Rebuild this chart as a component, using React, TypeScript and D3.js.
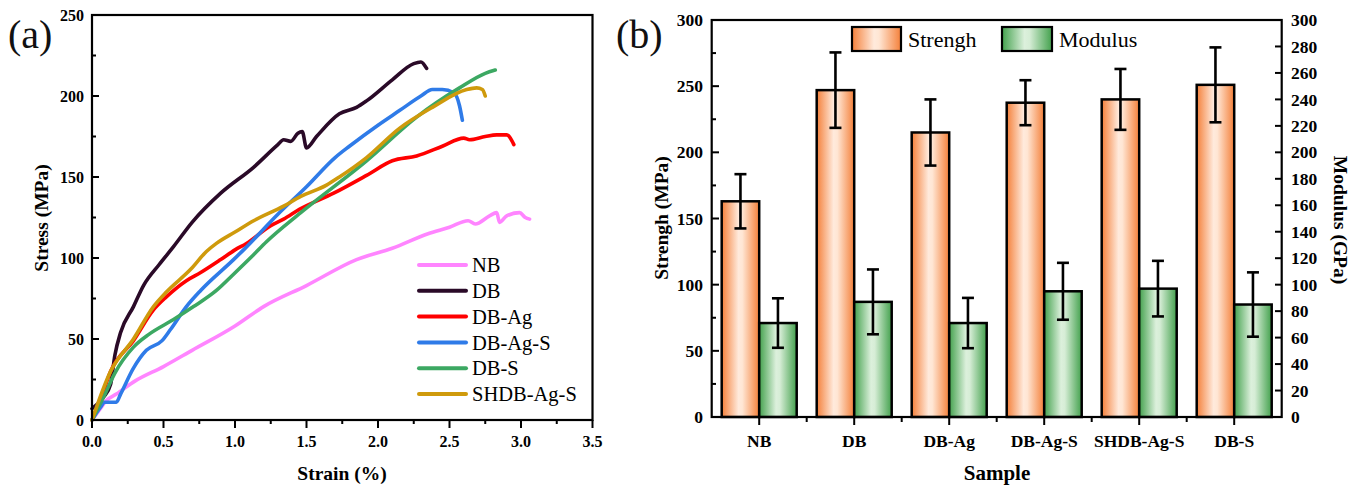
import React from "react";
import * as d3 from "d3";

// ---------- Panel (a) data: strain (%) vs stress (MPa) ----------
const NB: [number, number][] = [
  [0, 0], [0.05, 6], [0.1, 12], [0.17, 16], [0.3, 24], [0.5, 33], [0.7, 43], [1.0, 58],
  [1.2, 70], [1.5, 83], [1.85, 99], [2.1, 106], [2.35, 115], [2.5, 119], [2.63, 123],
  [2.68, 121], [2.78, 126], [2.83, 128], [2.85, 122], [2.9, 126], [2.99, 128], [3.03, 125], [3.06, 124],
];
const DB: [number, number][] = [
  [0, 7], [0.08, 14], [0.13, 22], [0.16, 40], [0.2, 54], [0.29, 70], [0.36, 83], [0.47, 96],
  [0.57, 107], [0.7, 122], [0.9, 140], [1.13, 156], [1.3, 170], [1.34, 173], [1.39, 172],
  [1.44, 177], [1.47, 178], [1.5, 168], [1.57, 175], [1.73, 189], [1.85, 193], [1.92, 197],
  [2.1, 210], [2.25, 220], [2.3, 221], [2.34, 217],
];
const DBAg: [number, number][] = [
  [0, 0], [0.05, 10], [0.13, 30], [0.29, 49], [0.43, 68], [0.52, 76], [0.66, 86], [0.76, 91],
  [0.9, 99], [1.0, 105], [1.08, 109], [1.25, 120], [1.34, 124], [1.45, 130], [1.69, 140],
  [1.92, 151], [2.1, 160], [2.27, 163], [2.45, 169], [2.6, 174], [2.64, 173], [2.75, 175],
  [2.83, 176], [2.9, 176], [2.95, 170],
];
const DBAgS: [number, number][] = [
  [0, 0], [0.06, 8], [0.09, 11], [0.17, 11], [0.2, 16], [0.29, 32], [0.38, 43], [0.49, 49],
  [0.55, 56], [0.66, 70], [0.76, 80], [0.99, 99], [1.06, 105], [1.3, 127], [1.5, 144],
  [1.7, 162], [1.8, 169], [2.0, 182], [2.15, 191], [2.3, 200], [2.38, 204], [2.45, 204],
  [2.53, 202], [2.57, 194], [2.59, 185],
];
const DBS: [number, number][] = [
  [0, 0], [0.08, 14], [0.16, 29], [0.29, 45], [0.4, 53], [0.57, 62], [0.71, 70], [0.87, 80],
  [0.99, 90], [1.13, 102], [1.22, 110], [1.46, 128], [1.92, 160], [2.27, 187], [2.57, 205],
  [2.75, 214], [2.82, 216],
];
const SHDBAgS: [number, number][] = [
  [0, 0], [0.13, 30], [0.29, 50], [0.43, 70], [0.52, 79], [0.69, 93], [0.8, 104], [0.87, 109],
  [1.0, 116], [1.13, 123], [1.34, 132], [1.46, 138], [1.64, 145], [1.73, 150], [1.92, 162],
  [2.15, 180], [2.38, 193], [2.62, 204], [2.69, 205], [2.73, 204], [2.75, 200],
];
const seriesNames = ["NB", "DB", "DB-Ag", "DB-Ag-S", "DB-S", "SHDB-Ag-S"];
const seriesData = [NB, DB, DBAg, DBAgS, DBS, SHDBAgS];
const seriesColors = ["#ff85ff", "#2a0a28", "#ff0000", "#2f7be8", "#3ca862", "#cf9a0c"];
const strainTicks = [0, 0.5, 1.0, 1.5, 2.0, 2.5, 3.0, 3.5];
const stressTicks = [0, 50, 100, 150, 200, 250];

// ---------- Panel (b) data ----------
const samples = ["NB", "DB", "DB-Ag", "DB-Ag-S", "SHDB-Ag-S", "DB-S"];
const strength = [163, 247, 215, 237.5, 240, 251];
const strengthErr = [20.5, 28.5, 25, 17, 23, 28.3];
const modulus = [71, 87, 71, 95, 97, 85];
const modulusErr = [18.7, 24.5, 19, 21.5, 21, 24.3];
const strengthTicks = [0, 50, 100, 150, 200, 250, 300];
const modulusTicks = d3.range(0, 301, 20);

const F = "Liberation Serif";

function T(props: any) {
  return <text fontFamily={F} {...props} />;
}

export default function App() {
  // Panel (a) scales
  const xA = d3.scaleLinear().domain([0, 3.5]).range([92, 592.5]);
  const yA = d3.scaleLinear().domain([0, 250]).range([420, 15]);
  const line = d3
    .line<[number, number]>()
    .x((d) => xA(d[0]))
    .y((d) => yA(d[1]))
    .curve(d3.curveMonotoneX);

  // Panel (b) scales
  const xB = d3.scaleBand<string>().domain(samples).range([711.7, 1281.7]).paddingInner(0).paddingOuter(0);
  const yB = d3.scaleLinear().domain([0, 300]).range([417, 20]);
  const yR = d3.scaleLinear().domain([0, 300]).range([417, 20]);
  const bw = 37.5;
  const cx = (s: string) => (xB(s) as number) + xB.bandwidth() / 2;

  const minorA = d3.range(25, 250, 50);
  const minorStrainA = d3.range(0.25, 3.5, 0.5);
  const minorB = d3.range(25, 300, 50);

  return (
    <div style={{ position: "absolute", left: 0, top: 0 }}>
      <svg width={1362} height={490} style={{ display: "block" }}>
        <defs>
          <linearGradient id="gOrange" x1="0" x2="1" y1="0" y2="0">
            <stop offset="0%" stopColor="#f4803a" />
            <stop offset="45%" stopColor="#ffeadc" />
            <stop offset="55%" stopColor="#ffe6d4" />
            <stop offset="100%" stopColor="#f4803a" />
          </linearGradient>
          <linearGradient id="gGreen" x1="0" x2="1" y1="0" y2="0">
            <stop offset="0%" stopColor="#43a14d" />
            <stop offset="45%" stopColor="#dcf0dc" />
            <stop offset="55%" stopColor="#d6edd6" />
            <stop offset="100%" stopColor="#43a14d" />
          </linearGradient>
        </defs>

        {/* ================= Panel (a) ================= */}
        <T x={8} y={48} fontSize={40} fill="#111">(a)</T>
        {seriesData.map((d, i) => (
          <path
            key={seriesNames[i]}
            d={line(d) || ""}
            fill="none"
            stroke={seriesColors[i]}
            strokeWidth={3.6}
            strokeLinejoin="round"
            strokeLinecap="round"
          />
        ))}
        <rect x={92} y={15} width={500.5} height={405} fill="none" stroke="#000" strokeWidth={2.2} />
        {stressTicks.map((t) => (
          <g key={"ya" + t}>
            <line x1={92} x2={99} y1={yA(t)} y2={yA(t)} stroke="#000" strokeWidth={2} />
            <T x={84} y={yA(t)} dy="0.35em" textAnchor="end" fontSize={16} fontWeight="bold">
              {t}
            </T>
          </g>
        ))}
        {minorA.map((t) => (
          <line key={"yam" + t} x1={92} x2={96} y1={yA(t)} y2={yA(t)} stroke="#000" strokeWidth={2} />
        ))}
        {strainTicks.map((t) => (
          <g key={"xa" + t}>
            <line x1={xA(t)} x2={xA(t)} y1={420} y2={428} stroke="#000" strokeWidth={2} />
            <T x={xA(t)} y={447} textAnchor="middle" fontSize={16} fontWeight="bold">
              {t.toFixed(1)}
            </T>
          </g>
        ))}
        {minorStrainA.map((t) => (
          <line key={"xam" + t} x1={xA(t)} x2={xA(t)} y1={420} y2={424} stroke="#000" strokeWidth={2} />
        ))}
        <T x={342} y={480} textAnchor="middle" fontSize={19.5} fontWeight="bold">
          Strain (%)
        </T>
        <T transform="translate(48,218) rotate(-90)" textAnchor="middle" fontSize={19.5} fontWeight="bold">
          Stress (MPa)
        </T>
        {seriesNames.map((n, i) => {
          const y = 265 + i * 25.8;
          return (
            <g key={"lg" + n}>
              <line x1={419} x2={466} y1={y} y2={y} stroke={seriesColors[i]} strokeWidth={4} strokeLinecap="round" />
              <T x={472} y={y} dy="0.35em" fontSize={20.5}>
                {n}
              </T>
            </g>
          );
        })}

        {/* ================= Panel (b) ================= */}
        <T x={616} y={48} fontSize={40} fill="#111">(b)</T>
        {samples.map((s, i) => (
          <g key={"bar" + s}>
            <rect
              x={cx(s) - bw}
              y={yB(strength[i])}
              width={bw}
              height={yB(0) - yB(strength[i])}
              fill="url(#gOrange)"
              stroke="#000"
              strokeWidth={2.5}
            />
            <rect
              x={cx(s)}
              y={yR(modulus[i])}
              width={bw}
              height={yR(0) - yR(modulus[i])}
              fill="url(#gGreen)"
              stroke="#000"
              strokeWidth={2.5}
            />
          </g>
        ))}
        {samples.map((s, i) => {
          const x1 = cx(s) - bw / 2;
          const x2 = cx(s) + bw / 2;
          const a = yB(strength[i] + strengthErr[i]);
          const b = yB(strength[i] - strengthErr[i]);
          const c = yR(modulus[i] + modulusErr[i]);
          const e = yR(modulus[i] - modulusErr[i]);
          return (
            <g key={"err" + s} stroke="#000" strokeWidth={2.6}>
              <line x1={x1} x2={x1} y1={a} y2={b} />
              <line x1={x1 - 6} x2={x1 + 6} y1={a} y2={a} />
              <line x1={x1 - 6} x2={x1 + 6} y1={b} y2={b} />
              <line x1={x2} x2={x2} y1={c} y2={e} />
              <line x1={x2 - 6} x2={x2 + 6} y1={c} y2={c} />
              <line x1={x2 - 6} x2={x2 + 6} y1={e} y2={e} />
            </g>
          );
        })}
        <rect x={711.7} y={20} width={570} height={397} fill="none" stroke="#000" strokeWidth={2.2} />
        {strengthTicks.map((t) => (
          <g key={"yb" + t}>
            <line x1={711.7} x2={719} y1={yB(t)} y2={yB(t)} stroke="#000" strokeWidth={2} />
            <T x={703} y={yB(t)} dy="0.35em" textAnchor="end" fontSize={17.5} fontWeight="bold">
              {t}
            </T>
          </g>
        ))}
        {minorB.map((t) => (
          <line key={"ybm" + t} x1={711.7} x2={716} y1={yB(t)} y2={yB(t)} stroke="#000" strokeWidth={2} />
        ))}
        {modulusTicks.map((t) => (
          <g key={"yr" + t}>
            <line x1={1275} x2={1281.7} y1={yR(t)} y2={yR(t)} stroke="#000" strokeWidth={2} />
            <T x={1291} y={yR(t)} dy="0.35em" textAnchor="start" fontSize={17.5} fontWeight="bold">
              {t}
            </T>
          </g>
        ))}
        {samples.map((s) => (
          <g key={"xb" + s}>
            <line x1={cx(s)} x2={cx(s)} y1={417} y2={425} stroke="#000" strokeWidth={2} />
            <T x={cx(s)} y={447} textAnchor="middle" fontSize={17.5} fontWeight="bold">
              {s}
            </T>
          </g>
        ))}
        {samples.slice(1).map((s) => (
          <line key={"xbm" + s} x1={xB(s) as number} x2={xB(s) as number} y1={417} y2={422} stroke="#000" strokeWidth={2} />
        ))}
        <T x={997} y={480} textAnchor="middle" fontSize={21} fontWeight="bold">
          Sample
        </T>
        <T transform="translate(668,218) rotate(-90)" textAnchor="middle" fontSize={19.5} fontWeight="bold">
          Strengh (MPa)
        </T>
        <T transform="translate(1334,220) rotate(90)" textAnchor="middle" fontSize={19.5} fontWeight="bold">
          Modulus (GPa)
        </T>
        {/* legend */}
        <rect x={852} y={27} width={49} height={24} fill="url(#gOrange)" stroke="#000" strokeWidth={2.2} />
        <T x={908} y={39} dy="0.35em" fontSize={22}>Strengh</T>
        <rect x={1002} y={27} width={50} height={24} fill="url(#gGreen)" stroke="#000" strokeWidth={2.2} />
        <T x={1059} y={39} dy="0.35em" fontSize={22}>Modulus</T>
      </svg>
    </div>
  );
}
